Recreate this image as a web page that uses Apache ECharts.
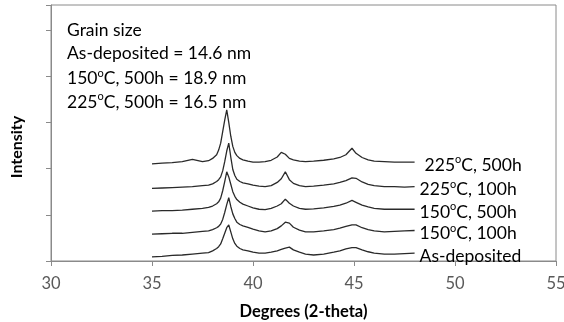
<!DOCTYPE html>
<html>

<head>
    <meta charset="utf-8">
    <title>XRD</title>
    <script src="https://cdn.jsdelivr.net/npm/echarts@6/dist/echarts.min.js"></script>
</head>

<body style="margin:0">
    <div id="main" style="width: 564px;height:322px;"></div>
    <script type="text/javascript">
        // 2-theta positions (shared by all scans)
        var twoTheta = [35.0, 35.5, 36.0, 36.5, 37.0, 37.5, 37.8, 38.0, 38.2, 38.3, 38.4, 38.5, 38.6, 38.7, 38.8, 38.9,
            39.0, 39.1, 39.2, 39.35, 39.5, 39.75, 40.0, 40.3, 40.6, 40.9, 41.2, 41.4, 41.6, 41.8, 42.0, 42.3, 42.6,
            43.0, 43.5, 44.0, 44.3, 44.6, 44.9, 45.1, 45.4, 45.7, 46.0, 46.5, 47.0, 47.5, 48.0];

        // intensity (stacked, arbitrary units, one tick = 1)
        var asDeposited = [0.09, 0.10, 0.12, 0.13, 0.15, 0.17, 0.18, 0.22, 0.27, 0.31, 0.37, 0.48, 0.60, 0.72, 0.78, 0.63,
            0.48, 0.38, 0.32, 0.27, 0.24, 0.22, 0.19, 0.17, 0.17, 0.19, 0.22, 0.25, 0.28, 0.30, 0.24, 0.19, 0.15,
            0.13, 0.15, 0.19, 0.22, 0.26, 0.29, 0.29, 0.24, 0.20, 0.17, 0.15, 0.15, 0.16, 0.17];
        var c150h100 = [0.58, 0.59, 0.60, 0.60, 0.62, 0.64, 0.65, 0.68, 0.72, 0.75, 0.80, 0.90, 1.05, 1.22, 1.37, 1.18,
            1.02, 0.92, 0.84, 0.79, 0.76, 0.73, 0.69, 0.65, 0.63, 0.65, 0.70, 0.76, 0.84, 0.82, 0.73, 0.67, 0.63,
            0.63, 0.65, 0.68, 0.71, 0.75, 0.78, 0.78, 0.72, 0.68, 0.65, 0.63, 0.64, 0.65, 0.66];
        var c150h500 = [1.08, 1.09, 1.09, 1.10, 1.12, 1.14, 1.16, 1.19, 1.24, 1.28, 1.36, 1.52, 1.72, 1.93, 1.82, 1.66,
            1.50, 1.40, 1.33, 1.27, 1.23, 1.19, 1.15, 1.12, 1.11, 1.14, 1.19, 1.24, 1.34, 1.25, 1.19, 1.14, 1.12,
            1.13, 1.15, 1.18, 1.21, 1.25, 1.31, 1.27, 1.21, 1.17, 1.14, 1.12, 1.12, 1.12, 1.12];
        var c225h100 = [1.57, 1.58, 1.59, 1.60, 1.61, 1.63, 1.64, 1.67, 1.72, 1.76, 1.82, 1.95, 2.15, 2.38, 2.55, 2.25,
            1.98, 1.85, 1.77, 1.72, 1.69, 1.67, 1.64, 1.62, 1.61, 1.63, 1.70, 1.78, 1.93, 1.76, 1.68, 1.63, 1.61,
            1.62, 1.64, 1.67, 1.70, 1.74, 1.80, 1.79, 1.71, 1.66, 1.63, 1.61, 1.61, 1.60, 1.61];
        var c225h500 = [2.10, 2.12, 2.13, 2.15, 2.20, 2.15, 2.17, 2.22, 2.30, 2.40, 2.55, 2.80, 3.05, 3.27, 3.00, 2.70,
            2.48, 2.35, 2.28, 2.22, 2.19, 2.16, 2.14, 2.14, 2.15, 2.18, 2.25, 2.35, 2.31, 2.22, 2.19, 2.16, 2.15,
            2.16, 2.18, 2.21, 2.24, 2.30, 2.44, 2.33, 2.24, 2.19, 2.16, 2.15, 2.14, 2.14, 2.14];

        var seriesNames = ['As-deposited', '150°C, 100h', '150°C, 500h', '225°C, 100h', '225°C, 500h'];
        var seriesValues = [asDeposited, c150h100, c150h500, c225h100, c225h500];
        var labelGaps = [5, 5, 5, 5, 10];

        var notes = ['Grain size', 'As-deposited = 14.6 nm', '150°C, 500h = 18.9 nm', '225°C, 500h = 16.5 nm'];

        var xTicks = [30, 35, 40, 45, 50, 55];

        var FONT = 'Lato';
        // superscript "o" like the original
        function richName(name) {
            return '{n|' + name.replace('°', '}{s|o}{n|') + '}';
        }
        var richStyle = {
            n: { fontSize: 17.5, fontFamily: FONT, color: '#000', lineHeight: 22 },
            s: { fontSize: 11, fontFamily: FONT, color: '#000', lineHeight: 13, verticalAlign: 'top' }
        };

        var dom = document.getElementById("main");
        var myChart = echarts.init(dom);

        var series = seriesValues.map(function (vals, i) {
            return {
                name: seriesNames[i],
                type: 'line',
                data: twoTheta.map(function (x, k) { return [x, vals[k]]; }),
                showSymbol: false,
                lineStyle: { color: '#2a2a2a', width: 1.3 },
                silent: true,
                endLabel: {
                    show: true,
                    distance: labelGaps[i],
                    offset: [0, 3],
                    formatter: function () { return richName(seriesNames[i]); },
                    rich: richStyle
                }
            };
        });

        var graphics = notes.map(function (t, i) {
            return {
                type: 'text',
                left: 67,
                top: 21 + i * 23.4,
                style: { text: richName(t), rich: richStyle }
            };
        });
        graphics.push({
            type: 'text',
            x: 17,
            y: 147,
            rotation: Math.PI / 2,
            style: {
                text: 'Intensity',
                fontFamily: FONT,
                fontSize: 16,
                fontWeight: 'bold',
                fill: '#000',
                align: 'center',
                verticalAlign: 'middle'
            }
        });

        var option = {
            animation: false,
            grid: {
                left: 51, right: 8, top: 5, bottom: 61,
                outerBoundsMode: 'none',
                containLabel: false,
                show: true, borderColor: '#8a8a8a', borderWidth: 1
            },
            xAxis: {
                type: 'value',
                min: xTicks[0],
                max: xTicks[xTicks.length - 1],
                interval: 5,
                name: 'Degrees (2-theta)',
                nameLocation: 'middle',
                nameGap: 42,
                nameTextStyle: { fontFamily: FONT, fontSize: 16.5, fontWeight: 'bold', color: '#000' },
                axisLine: { lineStyle: { color: '#8a8a8a' } },
                axisTick: { show: true, length: 5, lineStyle: { color: '#8a8a8a' } },
                axisLabel: { fontFamily: FONT, fontSize: 16.5, color: '#595959', margin: 14 },
                splitLine: { show: false }
            },
            yAxis: {
                type: 'value',
                min: 0,
                max: 5.54,
                interval: 1,
                axisLine: { show: true, lineStyle: { color: '#8a8a8a' } },
                axisTick: { show: true, length: 5, lineStyle: { color: '#8a8a8a' } },
                axisLabel: { show: false },
                splitLine: { show: false }
            },
            graphic: graphics,
            series: series
        };
        myChart.setOption(option);
    </script>
</body>

</html>
